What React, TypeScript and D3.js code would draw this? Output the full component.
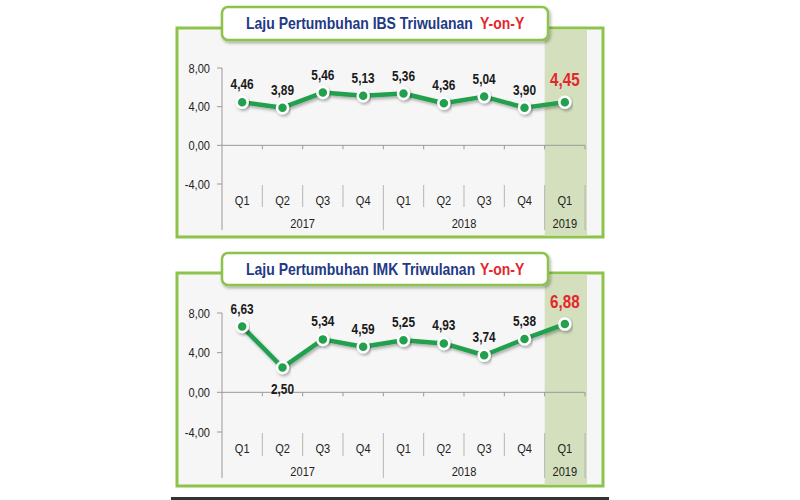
import React from "react";
import * as d3 from "d3";

const quarters = ["Q1", "Q2", "Q3", "Q4", "Q1", "Q2", "Q3", "Q4", "Q1"];
const years = [
  { label: "2017", start: 0, end: 4 },
  { label: "2018", start: 4, end: 8 },
  { label: "2019", start: 8, end: 9 },
];
const yTicks = [8, 4, 0, -4];
const ibsValues = [4.46, 3.89, 5.46, 5.13, 5.36, 4.36, 5.04, 3.9, 4.45];
const imkValues = [6.63, 2.5, 5.34, 4.59, 5.25, 4.93, 3.74, 5.38, 6.88];
const ibsTitle = "Laju Pertumbuhan IBS Triwulanan";
const imkTitle = "Laju Pertumbuhan IMK Triwulanan";
const titleAccent = "Y-on-Y";
// label placement: 1 = above, -1 = below
const imkLabelSide = [1, -1, 1, 1, 1, 1, 1, 1, 1];
const ibsLabelSide = [1, 1, 1, 1, 1, 1, 1, 1, 1];

const GREEN_FRAME = "#8cc34a";
const LINE_GREEN = "#22a04d";
const HILITE = "#d3dfbd";
const NAVY = "#1f3a86";
const RED = "#e5262b";
const FONT = "'Liberation Sans', Arial, sans-serif";
const SX = 0.82;
const TITLE_SX = 0.875;

type NTextProps = {
  x: number;
  y: number;
  children: React.ReactNode;
  anchor?: "start" | "middle" | "end";
  size: number;
  bold?: boolean;
  fill?: string;
  dy?: string;
};

function NText({ x, y, children, anchor = "middle", size, bold, fill = "#222", dy }: NTextProps) {
  return (
    <g transform={`translate(${x},${y}) scale(${SX},1)`}>
      <text
        x={0}
        y={0}
        dy={dy}
        textAnchor={anchor}
        fontFamily={FONT}
        fontSize={size}
        fontWeight={bold ? "bold" : "normal"}
        fill={fill}
      >
        {children}
      </text>
    </g>
  );
}

type PanelProps = {
  title: string;
  values: number[];
  sides: number[];
  frameTop: number;
  frameBottom: number;
  titleTop: number;
  titleBottom: number;
  y8: number;
  yM4: number;
  axisBottom: number;
  qLabelY: number;
  yearLabelY: number;
  sepTop: number;
  sepBottom: number;
};

const frameLeft = 177;
const frameRight = 603;
const plotLeft = 222;
const plotRight = 585;
const titleLeft = 222;
const titleRight = 548;
const titleTextX = 246;
const accentX = 480;

function Panel(p: PanelProps) {
  const x = d3
    .scaleBand<number>()
    .domain(quarters.map((_, i) => i))
    .range([plotLeft, plotRight])
    .paddingInner(0)
    .paddingOuter(0);
  const y = d3.scaleLinear().domain([-4, 8]).range([p.yM4, p.y8]);
  const bw = x.bandwidth();
  const cx = (i: number) => (x(i) as number) + bw / 2;
  const line = d3
    .line<number>()
    .x((_, i) => cx(i))
    .y((d) => y(d));
  const last = p.values.length - 1;
  const hiX = x(last) as number;
  const boundaries = d3.range(0, quarters.length + 1).map((i) => plotLeft + i * bw);
  const yearBounds = new Set<number>();
  years.forEach((yr) => {
    yearBounds.add(yr.start);
    yearBounds.add(yr.end);
  });
  const fmt = (v: number) => d3.format(".2f")(v).replace(".", ",").replace("−", "-");
  const titleY = (p.titleTop + p.titleBottom) / 2;

  return (
    <g>
      <rect
        x={frameLeft}
        y={p.frameTop}
        width={frameRight - frameLeft}
        height={p.frameBottom - p.frameTop}
        fill="#f6f6f6"
        stroke={GREEN_FRAME}
        strokeWidth={3}
      />
      <rect
        x={hiX}
        y={p.frameTop + 1.5}
        width={bw + 2}
        height={p.frameBottom - p.frameTop - 3}
        fill={HILITE}
      />
      <line x1={plotLeft} x2={plotLeft} y1={y(8)} y2={p.axisBottom} stroke="#9a9a9a" strokeWidth={1} />
      {yTicks.map((t) => (
        <g key={t}>
          <line x1={plotLeft - 5} x2={plotLeft} y1={y(t)} y2={y(t)} stroke="#9a9a9a" />
          <NText x={plotLeft - 12} y={y(t)} dy="0.35em" anchor="end" size={13.5}>
            {fmt(t)}
          </NText>
        </g>
      ))}
      <line x1={plotLeft} x2={plotRight} y1={y(0)} y2={y(0)} stroke="#9a9a9a" strokeWidth={1} />
      {boundaries.slice(1).map((bx, i) => (
        <line key={"zt" + i} x1={bx} x2={bx} y1={y(0)} y2={y(0) + 4} stroke="#9a9a9a" />
      ))}
      {boundaries.map((bx, i) =>
        i === 0 ? null : (
          <line
            key={"sep" + i}
            x1={bx}
            x2={bx}
            y1={p.sepTop}
            y2={yearBounds.has(i) ? p.axisBottom : p.sepBottom}
            stroke="#b5b5b5"
            strokeWidth={1}
          />
        )
      )}
      {quarters.map((q, i) => (
        <NText key={"q" + i} x={cx(i)} y={p.qLabelY} dy="0.35em" size={13.5}>
          {q}
        </NText>
      ))}
      {years.map((yr) => (
        <NText
          key={yr.label}
          x={(plotLeft + yr.start * bw + plotLeft + yr.end * bw) / 2}
          y={p.yearLabelY}
          dy="0.35em"
          size={13.5}
        >
          {yr.label}
        </NText>
      ))}
      <path
        d={line(p.values) || ""}
        fill="none"
        stroke={LINE_GREEN}
        strokeWidth={4.5}
        strokeLinejoin="round"
        filter="url(#shadow)"
      />
      {p.values.map((v, i) => (
        <circle
          key={"c" + i}
          cx={cx(i)}
          cy={y(v)}
          r={5.5}
          fill={LINE_GREEN}
          stroke="#ffffff"
          strokeWidth={2.5}
          filter="url(#shadow)"
        />
      ))}
      {p.values.map((v, i) => {
        const isLast = i === last;
        const above = p.sides[i] > 0;
        return (
          <NText
            key={"l" + i}
            x={cx(i)}
            y={above ? y(v) - (isLast ? 16 : 13) : y(v) + 26}
            size={isLast ? 18.5 : 14.5}
            bold
            fill={isLast ? RED : "#1a1a1a"}
          >
            {fmt(v)}
          </NText>
        );
      })}
      <rect
        x={titleLeft}
        y={p.titleTop}
        width={titleRight - titleLeft}
        height={p.titleBottom - p.titleTop}
        rx={6}
        fill="#ffffff"
        stroke={GREEN_FRAME}
        strokeWidth={2.5}
        filter="url(#shadow)"
      />
      <g transform={`translate(${titleTextX},${titleY}) scale(${TITLE_SX},1)`}>
        <text
          x={0}
          y={0}
          dy="0.36em"
          textAnchor="start"
          fontFamily={FONT}
          fontWeight="bold"
          fontSize={16}
          fill={NAVY}
        >
          {p.title}
        </text>
        <text
          x={(accentX - titleTextX) / TITLE_SX}
          y={0}
          dy="0.36em"
          textAnchor="start"
          fontFamily={FONT}
          fontWeight="bold"
          fontSize={16}
          fill={RED}
        >
          {titleAccent}
        </text>
      </g>
    </g>
  );
}

export default function App() {
  return (
    <svg
      width={800}
      height={500}
      style={{ position: "absolute", left: 0, top: 0, background: "#ffffff" }}
    >
      <defs>
        <filter id="shadow" x="-20%" y="-20%" width="140%" height="160%">
          <feDropShadow dx={1.5} dy={2} stdDeviation={1.5} floodColor="#000" floodOpacity={0.3} />
        </filter>
      </defs>
      <rect x={0} y={0} width={800} height={500} fill="#ffffff" />
      <Panel
        title={ibsTitle}
        values={ibsValues}
        sides={ibsLabelSide}
        frameTop={28}
        frameBottom={237}
        titleTop={7}
        titleBottom={40}
        y8={68}
        yM4={184}
        axisBottom={230}
        qLabelY={200}
        yearLabelY={223}
        sepTop={185}
        sepBottom={207}
      />
      <Panel
        title={imkTitle}
        values={imkValues}
        sides={imkLabelSide}
        frameTop={273}
        frameBottom={486}
        titleTop={253}
        titleBottom={285}
        y8={313}
        yM4={432}
        axisBottom={478}
        qLabelY={448}
        yearLabelY={471}
        sepTop={433}
        sepBottom={456}
      />
      <rect x={171} y={497} width={438} height={3} fill="#333333" />
    </svg>
  );
}
